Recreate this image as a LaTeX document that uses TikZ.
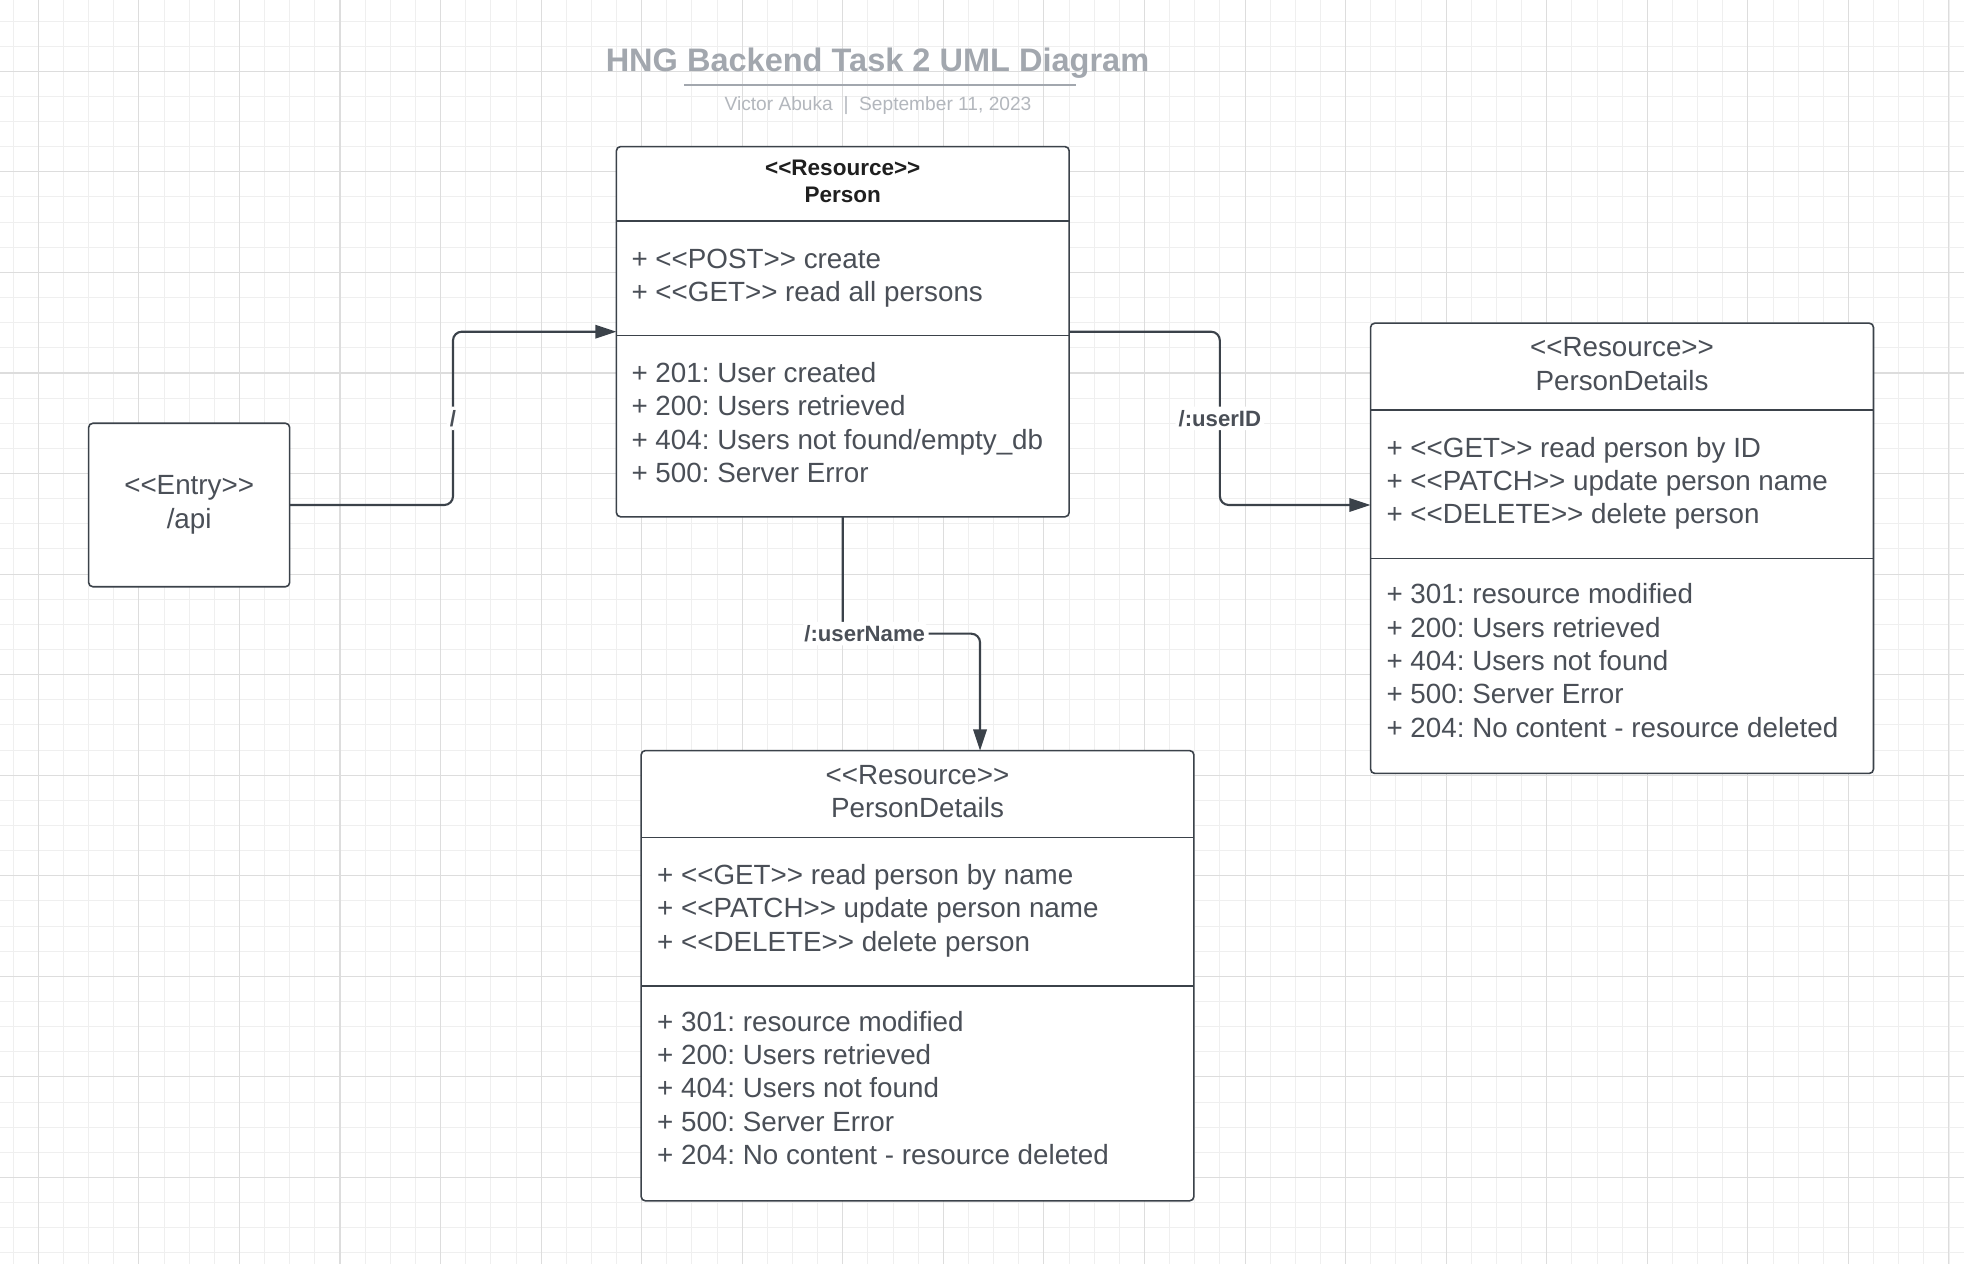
\documentclass[tikz,border=0pt]{standalone}
\usepackage{fontspec}
\setmainfont{Liberation Sans}[Ligatures=TeXOff]
\usetikzlibrary{arrows.meta,calc}
\definecolor{minorc}{HTML}{EFEFEF}
\definecolor{majorc}{HTML}{DDDDDD}
\definecolor{linec}{HTML}{3B424A}
\definecolor{textc}{HTML}{4A4F57}
\definecolor{titlec}{HTML}{A2A7AE}
\definecolor{subc}{HTML}{B3B7BD}
\frenchspacing

\begin{document}
\begin{tikzpicture}[x=0.01cm,y=-0.01cm,outer sep=0pt]
    \tikzset{umlbox/.style={draw=linec,fill=white,line width=0.45pt,rounded corners=1.2pt,inner sep=0pt}}
    \tikzset{item/.style={font=\fontsize{7.9}{9.5}\selectfont,text=textc,inner sep=0pt,anchor=base west}}
    \tikzset{stereo/.style={font=\fontsize{7.9}{9.5}\selectfont,text=textc,inner sep=0pt,anchor=base}}
    \tikzset{stereobold/.style={font=\fontsize{6.4}{7.7}\bfseries,text=black!88,inner sep=0pt,anchor=base}}
    \tikzset{divider/.style={draw=linec,line width=0.45pt}}
    \tikzset{link/.style={draw=linec,line width=0.6pt,rounded corners=2.5pt,-{Triangle[length=6pt,width=3.8pt]}}}
    \tikzset{lbl/.style={font=\fontsize{6.3}{7.5}\bfseries,text=textc,fill=white,inner sep=1pt}}

    \useasboundingbox (0,0) rectangle (1964,1264);
    \fill[white] (0,0) rectangle (1964,1264);

    % grid
    \foreach \i in {0,...,77} \draw[minorc,line width=0.28pt] ({13.2+25.14*\i},0) -- ++(0,1264);
    \foreach \j in {0,...,49} \draw[minorc,line width=0.28pt] (0,{21+25.14*\j}) -- ++(1964,0);
    \foreach \i in {0,...,19} \draw[majorc,line width=0.3pt] ({38.3+100.56*\i},0) -- ++(0,1264);
    \foreach \j in {0,...,11} \draw[majorc,line width=0.3pt] (0,{71.3+100.56*\j}) -- ++(1964,0);

    % title
    \node[font=\fontsize{9.25}{11}\bfseries,text=titlec,inner sep=0pt,anchor=base] (title) at (877.5,71.7) {HNG Backend Task 2 UML Diagram};
    \draw[titlec,line width=0.75pt] (684,85) -- (1075.6,85);
    \node[font=\fontsize{5.45}{6.5}\selectfont,text=subc,inner sep=0pt,anchor=base] (subtitle) at (878,110.7) {Victor Abuka\ \ |\ \ September 11, 2023};

    % boxes
    \node[umlbox,minimum width=2.009cm,minimum height=1.634cm,align=center,font=\fontsize{7.9}{9.5}\selectfont,text=textc] (entry) at (189.15,505) {<<Entry>>\\/api};
    \node[umlbox,minimum width=4.525cm,minimum height=3.7cm] (person) at (842.75,331.7) {};
    \node[umlbox,minimum width=5.026cm,minimum height=4.5cm] (byid) at (1622,548.3) {};
    \node[umlbox,minimum width=5.524cm,minimum height=4.5cm] (byname) at (917.5,975.7) {};

    % Person compartments
    \draw[divider] ([yshift=-0.743cm]person.north west) -- ([yshift=-0.743cm]person.north east);
    \draw[divider] ([yshift=-1.89cm]person.north west) -- ([yshift=-1.89cm]person.north east);
    \node[stereobold] (person-st) at ($(person.north)+(0,29.3)$) {<<Resource>>};
    \node[stereobold] (person-nm) at ($(person.north)+(0,56)$) {Person};
    \foreach \t [count=\i] in {+ <<POST>> create, + <<GET>> read all persons}
        \node[item] (person-m\i) at ($(person.north west)+(15.2,{88.2+33.4*\i})$) {\t};
    \foreach \t [count=\i] in {+ 201: User created, + 200: Users retrieved, + 404: Users not found/empty\_db, + 500: Server Error}
        \node[item] (person-r\i) at ($(person.north west)+(15.2,{202.6+33.4*\i})$) {\t};

    % PersonDetails compartments
    \foreach \b/\m in {byid/ID, byname/name} {
        \foreach \d in {0.87cm,2.35cm}
            \draw[divider] ([yshift=-\d]\b.north west) -- ([yshift=-\d]\b.north east);
        \node[stereo] (\b-st) at ($(\b.north)+(0,33.5)$) {<<Resource>>};
        \node[stereo] (\b-nm) at ($(\b.north)+(0,67)$) {PersonDetails};
        \foreach \t [count=\i] in {+ <<GET>> read person by \m, + <<PATCH>> update person name, + <<DELETE>> delete person}
            \node[item] (\b-m\i) at ($(\b.north west)+(16,{100.6+33.4*\i})$) {\t};
        \foreach \t [count=\i] in {+ 301: resource modified, + 200: Users retrieved, + 404: Users not found, + 500: Server Error, + 204: No content - resource deleted}
            \node[item] (\b-r\i) at ($(\b.north west)+(16,{247.1+33.4*\i})$) {\t};
    }

    % connectors
    \coordinate (apibend) at ($(entry.east)!0.5!(person.west)$);
    \draw[link] (entry.east) -| node[lbl,pos=0.75] (slashlbl) {/} (apibend |- person.west) -- (person.west);

    \coordinate (idin) at ([yshift=-1.817cm]byid.north west);
    \coordinate (idbend) at ($(person.east)!0.5!(idin)$);
    \draw[link] (person.east) -| node[lbl,pos=0.75] (idlbl) {/:userID} (idbend |- idin) -- (idin);

    \coordinate (namein) at ([xshift=0.625cm]byname.north);
    \coordinate (namebend) at ($(person.south)!0.5!(namein)$);
    \draw[link] (person.south) |- node[lbl,pos=0.58] (namelbl) {/:userName} (namebend -| namein) -- (namein);
\end{tikzpicture}
\end{document}
